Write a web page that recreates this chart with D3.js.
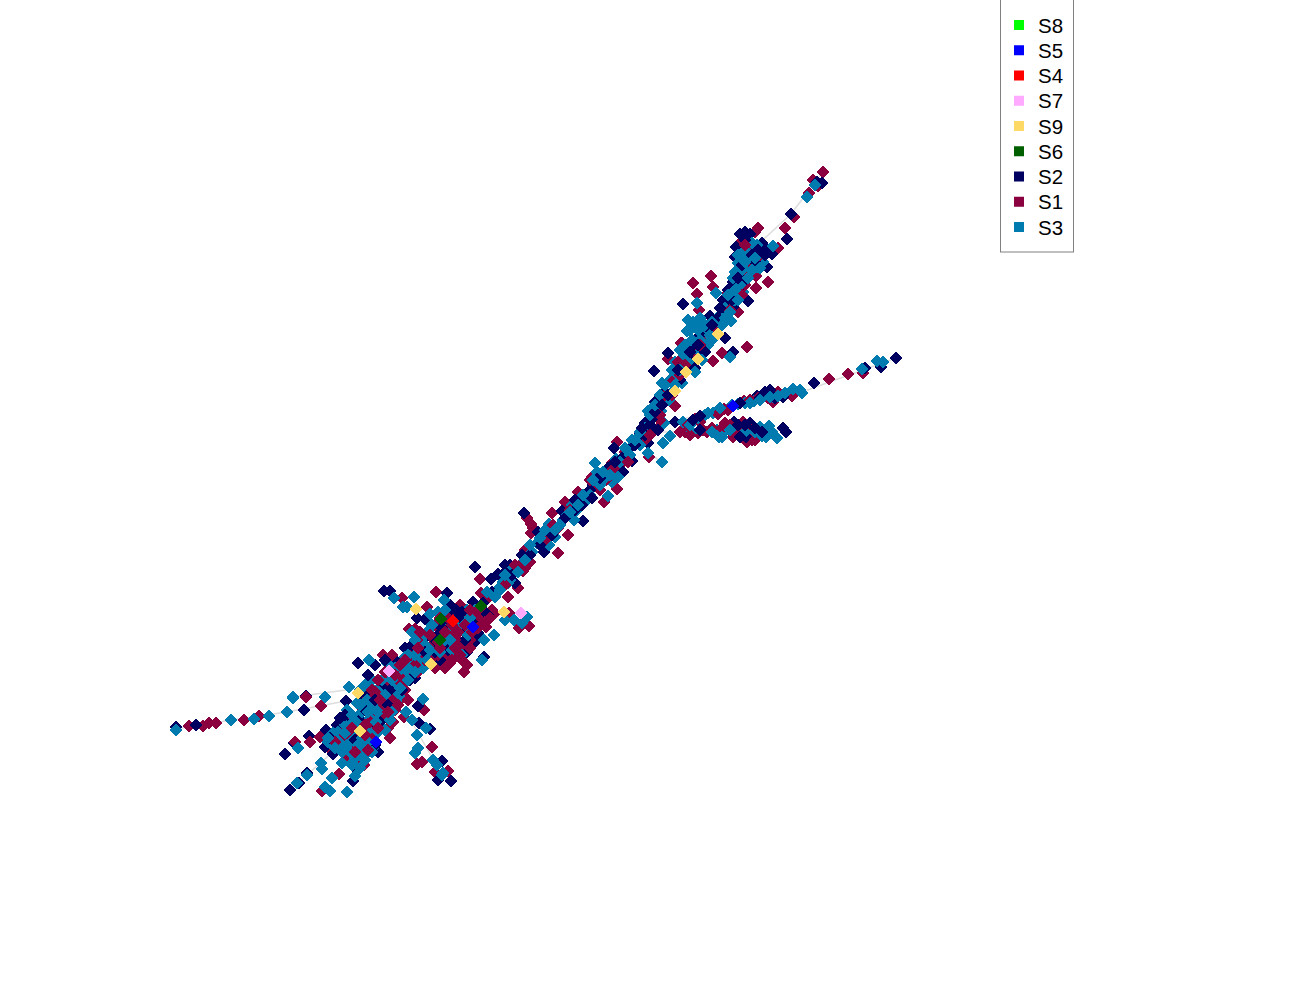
<!DOCTYPE html>
<html>
<head>
<meta charset="utf-8">
<script src="https://cdn.jsdelivr.net/npm/d3@7"></script>
<style>
body { margin: 0; background: #fff; }
</style>
</head>
<body>
<div id="chart"></div>
<script>
// layout coordinates, one array per sample group
var s1 = [[189,726],[203,726],[209,723],[216,723],[244,720],[259,716],[321,706],[306,697],[383,655],[295,742],[310,742],[320,737],[333,752],[322,791],[339,774],[364,765],[348,757],[424,710],[404,717],[432,747],[417,764],[422,762],[435,772],[448,771],
[398,670],[410,675],[405,690],[403,695],[385,715],[393,722],[390,738],[388,728],[362,708],[368,698],[352,720],[340,730],[372,738],[350,745],[345,750],[360,758],[400,700],[395,710],[412,660],[418,672],[392,655],[372,712],
[552,513],[527,518],[531,524],[533,528],[531,533],[558,528],[565,502],[568,535],[558,553],[543,540],[525,550],[530,562],[522,563],[523,571],[480,579],[518,588],[481,593],[508,597],[488,598],[509,613],[529,626],[519,628],[494,614],[492,610],[486,627],[467,665],[464,672],[450,663],[440,662],[436,592],[460,605],[402,598],[427,607],[409,629],[415,629],[438,625],
[452,632],[462,630],[470,625],[458,640],[448,645],[440,630],[432,645],[465,618],[478,622],[455,612],[470,640],[445,655],[462,645],[482,618],[435,625],[428,650],[420,640],[412,655],[425,660],
[747,347],[722,353],[713,361],[682,343],[668,359],[674,370],[657,402],[675,406],[658,428],[640,440],[617,442],[649,457],[612,463],[621,464],[592,477],[604,475],[617,489],[604,502],[600,490],
[695,419],[724,409],[744,401],[773,402],[792,396],[829,379],[848,374],[863,373],[680,432],[685,432],[698,433],[707,432],[725,423],[733,437],[743,422],[747,430],[747,442],[752,440],
[823,172],[813,180],[818,186],[809,193],[794,217],[785,228],[778,248],[758,228],[755,232],[740,243],[752,249],[750,260],[756,276],[768,282],[711,276],[693,283],[713,287],[697,294],[756,288],[728,293],[699,310],[738,312],[720,323],[681,343],
[578,492],[595,485],[606,480],[618,464],[625,452],[645,440],[652,432],[660,420],
[695,355],[705,335],[715,325],[725,310],[735,295],[745,285],[748,268],[745,255],[688,348],[678,362],[672,382],[665,395],
[375,692],[388,680],[398,680],[408,668],[415,665],[380,710],[370,722],[358,738],[350,730],[345,735],[365,725],[382,700],[392,700],[403,680],[425,655],[432,658],[448,635],[455,640],[440,618],[448,618],[475,615],[470,648],[460,655],[438,655],[505,585],[515,565],[525,568],[545,540],[553,525],[570,510],[590,480],[612,470],[628,462],[650,435],[660,415],[672,395],[680,375],[685,365],[700,345],[712,335],[730,310],[742,295],[750,275],[745,245],[760,255],
[688,425],[700,422],[718,414],[728,410],[750,400],[758,398],[768,398],[778,392],[690,435],[703,430],[712,428],[722,428],[730,425],[740,433],[735,428],[752,430],[755,440],[760,435],
[420,632],[430,635],[438,642],[445,632],[452,625],[458,632],[465,625],[472,632],[478,628],[485,622],[490,618],[455,648],[462,660],[440,648],[435,668],[480,608],[470,610],[452,660],[445,668],[418,648],[405,660],[385,672],[378,680],[372,690],[380,700],[388,712],[398,705],[378,728],[365,735],[352,728],[335,742],[355,752],[368,750],[400,665],[408,700],[395,675]];

var s2 = [[176,727],[196,725],[304,710],[306,696],[346,701],[358,663],[285,754],[294,743],[309,736],[326,730],[325,747],[333,754],[307,773],[299,783],[290,790],[353,781],[418,706],[419,723],[430,729],[442,761],[438,780],[451,781],
[375,665],[395,660],[410,680],[415,678],[360,700],[365,693],[380,695],[372,727],[380,722],[345,722],[337,725],[350,735],[362,725],[390,700],[385,685],[405,648],[398,665],[360,720],[342,742],[335,735],[355,768],[378,752],
[524,513],[538,532],[547,532],[562,511],[583,521],[544,552],[526,559],[505,565],[510,565],[475,567],[498,574],[491,579],[515,583],[492,592],[473,602],[483,603],[488,615],[476,641],[484,657],[467,652],[450,657],[433,655],[447,593],[450,605],[473,615],[384,591],[390,591],[417,618],[425,619],[427,636],
[438,635],[445,625],[460,625],[465,640],[455,652],[478,633],[445,640],[430,650],[470,620],[485,612],[428,660],[456,610],[448,612],[440,660],[412,645],
[733,352],[668,353],[654,371],[695,368],[664,392],[655,402],[648,423],[645,423],[648,443],[614,448],[632,461],[623,472],[610,471],[593,485],
[675,422],[757,396],[766,395],[783,397],[814,383],[865,368],[881,367],[896,358],[734,422],[750,423],[746,437],[757,437],[783,428],[786,432],
[817,182],[822,183],[791,214],[787,239],[767,250],[772,254],[762,243],[740,234],[750,234],[736,247],[735,257],[767,267],[733,282],[740,295],[728,290],[748,301],[683,304],[710,316],[723,300],[733,307],[725,338],
[650,425],[653,418],[645,435],[658,430],[640,433],
[575,500],[590,490],[598,478],[608,468],[622,458],[628,450],[638,437],
[700,335],[690,348],[708,328],[718,318],[728,312],[738,290],[745,280],[755,262],[705,352],[690,360],[680,380],[745,240],[730,300],
[365,710],[375,700],[390,690],[405,665],[385,660],[355,740],[345,715],[330,738],[340,718],[375,745],[388,705],[368,675],[402,690],[425,652],[435,652],[442,628],[448,650],[458,618],[468,630],[475,625],[462,612],[435,640],[505,572],[512,575],[522,555],[530,555],[540,545],[552,535],[565,518],[575,510],[582,505],[592,498],[600,478],[615,462],[635,445],[642,428],[655,412],[662,405],[668,395],[678,370],[690,352],[698,345],[712,325],[720,308],[732,300],[738,278],[742,265],[752,255],[758,250],[745,232],[765,255],
[765,392],[770,390],[775,398],[760,398],[740,403],[700,416],[693,420],[700,430],[738,425],[745,425],[755,428],[762,432],[740,437]];

var s3 = [[176,730],[231,720],[254,719],[269,716],[287,712],[293,697],[293,698],[325,697],[349,687],[366,684],[369,660],[298,748],[330,742],[321,763],[322,769],[307,775],[297,783],[325,787],[330,791],[332,778],[347,792],[355,776],[342,763],[352,765],[423,699],[406,712],[412,720],[426,728],[417,735],[418,748],[415,753],[433,760],[437,765],[442,775],[443,773],
[367,685],[373,690],[378,703],[367,700],[357,703],[362,712],[347,710],[370,718],[357,723],[338,732],[333,733],[328,742],[343,738],[353,740],[363,747],[373,748],[360,753],[352,763],[365,760],[397,682],[387,663],[405,657],[420,648],[413,665],[423,668],[400,697],[390,698],[377,690],[380,705],[390,720],[368,730],[378,732],[355,730],[345,725],[372,705],[385,705],[395,690],[402,675],
[549,524],[563,520],[567,515],[572,505],[585,502],[574,520],[555,537],[549,545],[537,543],[532,552],[513,568],[503,582],[500,587],[508,583],[510,580],[487,592],[495,597],[505,620],[514,620],[522,623],[527,617],[494,635],[484,640],[482,660],[457,654],[444,600],[467,610],[394,598],[414,597],[407,607],[403,607],[430,614],[428,631],
[438,612],[450,620],[445,630],[432,625],[445,648],[420,650],[408,655],[415,640],[437,650],[460,618],[465,628],[455,635],[443,640],[418,660],[403,663],[425,645],[475,610],[427,655],[462,655],
[730,357],[695,347],[675,362],[684,355],[662,383],[670,380],[682,383],[669,400],[648,411],[661,411],[645,428],[664,423],[632,440],[630,448],[663,443],[670,436],[648,453],[662,462],[595,463],[616,459],[597,472],[618,477],[612,482],[608,496],[585,497],[600,482],
[683,422],[705,415],[713,413],[732,405],[745,403],[754,401],[773,397],[793,389],[800,390],[802,393],[862,369],[877,361],[883,362],[692,432],[717,430],[719,437],[724,432],[737,428],[760,427],[769,426],[766,437],[777,438],
[815,185],[807,197],[773,246],[752,243],[757,245],[738,263],[763,262],[757,267],[743,265],[735,272],[740,275],[743,292],[716,293],[697,303],[723,310],[720,315],[731,321],[688,320],[695,325],[687,331],[707,333],[693,345],[708,345],
[577,510],[590,495],[600,485],[605,478],[612,470],[620,462],[630,455],[640,445],
[700,352],[692,340],[698,330],[705,325],[712,322],[722,325],[735,300],[740,285],[745,270],[750,255],[745,250],[740,268],[733,278],[728,305],[700,340],[688,362],[678,375],[672,392],[680,350],
[360,690],[372,680],[382,680],[388,672],[395,668],[408,668],[415,655],[392,680],[385,695],[378,712],[368,712],[360,705],[352,715],[345,733],[350,725],[362,738],[368,742],[358,745],[372,752],[365,755],[360,768],[355,758],[350,752],[338,745],[376,722],[385,730],[392,712],[400,688],[408,680],[415,672],[427,660],[430,650],[435,640],[440,652],[450,640],[455,625],[470,618],[445,610],[412,632],[468,635],[452,650],[425,635],[500,590],[505,575],[518,572],[525,560],[530,545],[540,538],[545,530],[555,530],[560,525],[570,512],[578,505],[583,495],[593,480],[603,472],[610,475],[625,448],[635,440],[640,432],[650,415],[655,405],[660,395],[665,385],[672,370],[680,370],[685,345],[690,330],[693,322],[700,318],[710,335],[712,340],[702,360],[695,372],[675,385],[730,312],[725,318],[735,290],[738,300],[745,262],[748,278],[752,270],[742,258],[738,255],[755,258],[760,268],[728,295],
[690,425],[698,418],[708,413],[720,408],[738,404],[750,403],[760,400],[770,397],[778,396],[785,393],[712,432],[722,437],[730,430],[745,432],[755,432],[765,430],[772,432],[762,436],
[335,748],[342,752],[328,738],[347,745]];

var s4 = [[453,621]];
var s5 = [[376,742],[473,627],[733,406]];
var s6 = [[441,619],[481,606],[440,640]];
var s7 = [[389,671],[521,613]];
var s8 = [];
var s9 = [[358,693],[360,731],[431,664],[416,609],[504,612],[675,391],[686,372],[698,359],[718,334]];

var groupNames = ["S8", "S5", "S4", "S7", "S9", "S6", "S2", "S1", "S3"];
var groupColors = ["#00ff00", "#0000ff", "#ff0000", "#ffaaff", "#ffd966", "#006000", "#000060", "#8b003f", "#007bb0"];

// faint links that run under the points
var links = [
  [[176,729],[231,720],[287,712],[346,701],[372,705],[431,664],[453,630],[495,597],[540,545],[600,485],[648,423],[675,391],[698,359],[725,310],[752,250],[791,214],[823,172]],
  [[293,697],[346,690]],
  [[290,790],[352,735]],
  [[406,712],[425,745],[442,775]],
  [[648,432],[700,432],[783,430]],
  [[660,425],[733,406],[802,392],[896,358]],
  [[648,453],[662,462]],
  [[494,614],[521,613]]
];

var width = 1300, height = 1000;

var svg = d3.select("#chart").append("svg")
  .attr("width", width)
  .attr("height", height)
  .style("display", "block");

var x = d3.scaleLinear().domain([0, 1300]).range([0, width]);
var y = d3.scaleLinear().domain([0, 1000]).range([0, height]);

var line = d3.line().x(function(d) { return x(d[0]); }).y(function(d) { return y(d[1]); });

svg.selectAll("path.link").data(links).enter().append("path")
  .attr("class", "link")
  .attr("d", line)
  .attr("fill", "none")
  .attr("stroke", "#dddddd")
  .attr("stroke-width", 1.5);

// the three big groups are mixed in drawing order, S3 leans to the top, the rare ones go last
var mixed = [];
[s1, s2, s3].forEach(function(pts, g) {
  var name = ["S1", "S2", "S3"][g];
  pts.forEach(function(p, i) {
    var t = i / pts.length;
    mixed.push({ x: p[0], y: p[1], group: name, order: g == 2 ? 0.15 + t * 0.85 : t });
  });
});
mixed.sort(function(a, b) { return a.order - b.order; });
[["S6", s6], ["S9", s9], ["S7", s7], ["S4", s4], ["S5", s5], ["S8", s8]].forEach(function(g) {
  g[1].forEach(function(p) { mixed.push({ x: p[0], y: p[1], group: g[0] }); });
});

var color = d3.scaleOrdinal().domain(groupNames).range(groupColors);
var diamond = d3.symbol().type(d3.symbolSquare).size(74);

svg.selectAll("path.point").data(mixed).enter().append("path")
  .attr("class", "point")
  .attr("d", diamond)
  .attr("transform", function(d) { return "translate(" + x(d.x) + "," + y(d.y) + ") rotate(45)"; })
  .attr("fill", function(d) { return color(d.group); })
  .attr("shape-rendering", "crispEdges");

// legend box
var legendY = d3.scalePoint().domain(groupNames).range([25, 227]);

svg.append("rect")
  .attr("x", 1000.5)
  .attr("y", -2)
  .attr("width", 73)
  .attr("height", 254)
  .attr("fill", "#fff")
  .attr("stroke", "#808080")
  .attr("stroke-width", 1);

var legend = svg.selectAll("g.legend").data(groupNames).enter().append("g")
  .attr("class", "legend")
  .attr("transform", function(d) { return "translate(0," + legendY(d) + ")"; });

legend.append("rect")
  .attr("x", 1014)
  .attr("y", -5)
  .attr("width", 10)
  .attr("height", 10)
  .attr("fill", function(d) { return color(d); });

legend.append("text")
  .attr("x", 1038)
  .attr("y", 7.5)
  .attr("font-family", "'Liberation Sans', Arial, sans-serif")
  .attr("font-size", 20.5)
  .attr("fill", "#000")
  .text(function(d) { return d; });
</script>
</body>
</html>
